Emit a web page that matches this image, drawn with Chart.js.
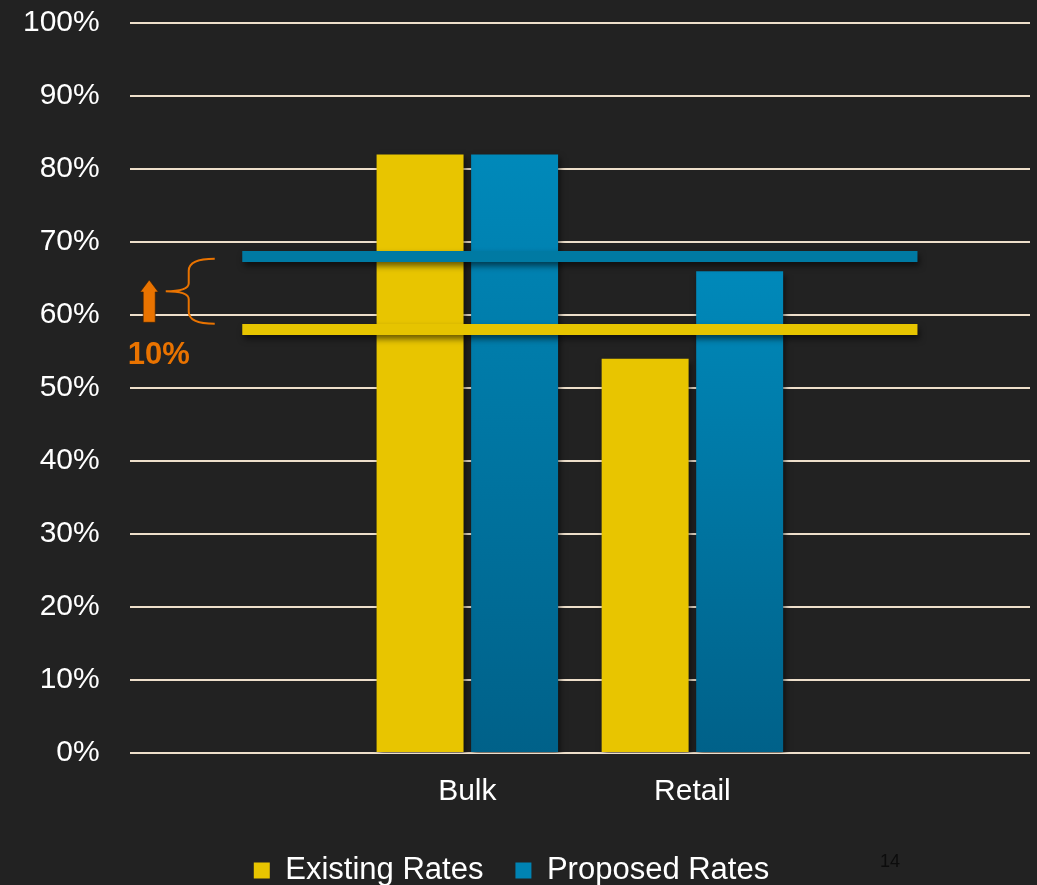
<!DOCTYPE html>
<html>
<head>
<meta charset="utf-8">
<script src="https://cdn.jsdelivr.net/npm/chart.js@4/dist/chart.umd.min.js"></script>
<style>
    html, body { margin: 0; padding: 0; background: #222222; overflow: hidden; }
    #wrap { position: relative; width: 1037px; height: 900px; overflow: hidden; }
    #rateChart { position: absolute; left: 0; top: -25px; }
    #pageNum { position: absolute; left: 880px; top: 851px; font: 18px 'Liberation Sans', Arial, sans-serif; color: #0c0c0c; }
</style>
</head>
<body>
<div id="wrap">
    <canvas id="rateChart" width="1037" height="925"></canvas>
    <div id="pageNum">14</div>
</div>
<script>
// Dados do gráfico
const categories = ['', 'Bulk', 'Retail', ''];
const existingRates = [null, 82, 54, null];
const proposedRates = [null, 82, 66, null];
const proposedAvg = [68, 68, 68, 68];
const existingAvg = [58, 58, 58, 58];
const yTicks = [0, 10, 20, 30, 40, 50, 60, 70, 80, 90, 100];

const FONT = "'Liberation Sans', Arial, sans-serif";
const ORANGE = '#E97300';

// Gradiente azul por barra
function blueGradient(c) {
    const chart = c.chart;
    if (!chart.chartArea || c.raw == null) return '#0083B3';
    const y = chart.scales.y;
    const top = y.getPixelForValue(c.raw);
    const bot = y.getPixelForValue(0);
    const g = chart.ctx.createLinearGradient(0, top, 0, bot);
    g.addColorStop(0, '#0089BA');
    g.addColorStop(1, '#006189');
    return g;
}

// Sombra nas séries
const shadowPlugin = {
    id: 'shadow',
    beforeDatasetDraw(chart) {
        const ctx = chart.ctx;
        ctx.save();
        ctx.shadowColor = 'rgba(0,0,0,0.55)';
        ctx.shadowBlur = 6;
        ctx.shadowOffsetX = 2;
        ctx.shadowOffsetY = 4;
    },
    afterDatasetDraw(chart) {
        chart.ctx.restore();
    }
};

// Seta, chave e rótulo "10%"
const annotationPlugin = {
    id: 'annot',
    afterDraw(chart) {
        const ctx = chart.ctx;
        const y = chart.scales.y;
        const left = chart.chartArea.left;
        const yTop = y.getPixelForValue(67.7);
        const yBot = y.getPixelForValue(58.8);
        const yMid = (yTop + yBot) / 2;

        ctx.save();
        // chave
        ctx.strokeStyle = ORANGE;
        ctx.lineWidth = 2;
        const bx = left + 59, ex = left + 85, tx = left + 36;
        ctx.beginPath();
        ctx.moveTo(ex, yTop);
        ctx.quadraticCurveTo(bx, yTop, bx, yTop + 12);
        ctx.lineTo(bx, yMid - 8);
        ctx.quadraticCurveTo(bx, yMid, tx, yMid);
        ctx.quadraticCurveTo(bx, yMid, bx, yMid + 8);
        ctx.lineTo(bx, yBot - 12);
        ctx.quadraticCurveTo(bx, yBot, ex, yBot);
        ctx.stroke();

        // seta
        const ax = left + 19.5;
        const aBot = y.getPixelForValue(59);
        const aTip = y.getPixelForValue(64.8);
        const aNeck = aTip + 12;
        ctx.fillStyle = ORANGE;
        ctx.strokeStyle = 'rgba(60,30,0,0.6)';
        ctx.lineWidth = 1;
        ctx.beginPath();
        ctx.moveTo(ax - 6, aBot);
        ctx.lineTo(ax - 6, aNeck);
        ctx.lineTo(ax - 9, aNeck);
        ctx.lineTo(ax, aTip);
        ctx.lineTo(ax + 9, aNeck);
        ctx.lineTo(ax + 6, aNeck);
        ctx.lineTo(ax + 6, aBot);
        ctx.closePath();
        ctx.fill();
        ctx.stroke();

        // texto
        ctx.fillStyle = ORANGE;
        ctx.font = 'bold 31px ' + FONT;
        ctx.textAlign = 'center';
        ctx.textBaseline = 'middle';
        ctx.fillText('10%', left + 29, y.getPixelForValue(54.4));
        ctx.restore();
    }
};

new Chart(document.getElementById('rateChart'), {
    type: 'bar',
    data: {
        labels: categories,
        datasets: [{
            label: 'Existing Rates',
            data: existingRates,
            backgroundColor: '#E8C500',
            borderWidth: 0,
            order: 2
        }, {
            label: 'Proposed Rates',
            data: proposedRates,
            backgroundColor: blueGradient,
            borderWidth: 0,
            order: 2
        }, {
            type: 'line',
            label: 'Proposed avg',
            data: proposedAvg,
            borderColor: '#007AA3',
            borderWidth: 11,
            borderCapStyle: 'butt',
            pointRadius: 0,
            fill: false,
            order: 1
        }, {
            type: 'line',
            label: 'Existing avg',
            data: existingAvg,
            borderColor: '#E6C400',
            borderWidth: 11,
            borderCapStyle: 'butt',
            pointRadius: 0,
            fill: false,
            order: 0
        }]
    },
    options: {
        responsive: false,
        animation: false,
        categoryPercentage: 0.84,
        barPercentage: 0.92,
        layout: { autoPadding: false, padding: { left: -7, right: 7, top: 4, bottom: 4 } },
        plugins: {
            legend: {
                position: 'bottom',
                labels: {
                    filter: item => item.datasetIndex < 2,
                    color: '#FFFFFF',
                    boxWidth: 16,
                    boxHeight: 16,
                    padding: 32,
                    font: { family: FONT, size: 31 }
                }
            },
            tooltip: { enabled: false }
        },
        scales: {
            x: {
                grid: { display: false },
                border: { display: false },
                ticks: { color: '#FFFFFF', padding: 13, font: { family: FONT, size: 30 } }
            },
            y: {
                min: 0,
                max: 100,
                afterBuildTicks: axis => { axis.ticks = yTicks.map(v => ({ value: v })); },
                grid: { color: '#EEDFCB', lineWidth: 2, drawTicks: false },
                border: { display: false },
                ticks: {
                    color: '#FFFFFF',
                    padding: 30,
                    font: { family: FONT, size: 30 },
                    callback: v => v + '%'
                }
            }
        }
    },
    plugins: [shadowPlugin, annotationPlugin]
});
</script>
</body>
</html>
